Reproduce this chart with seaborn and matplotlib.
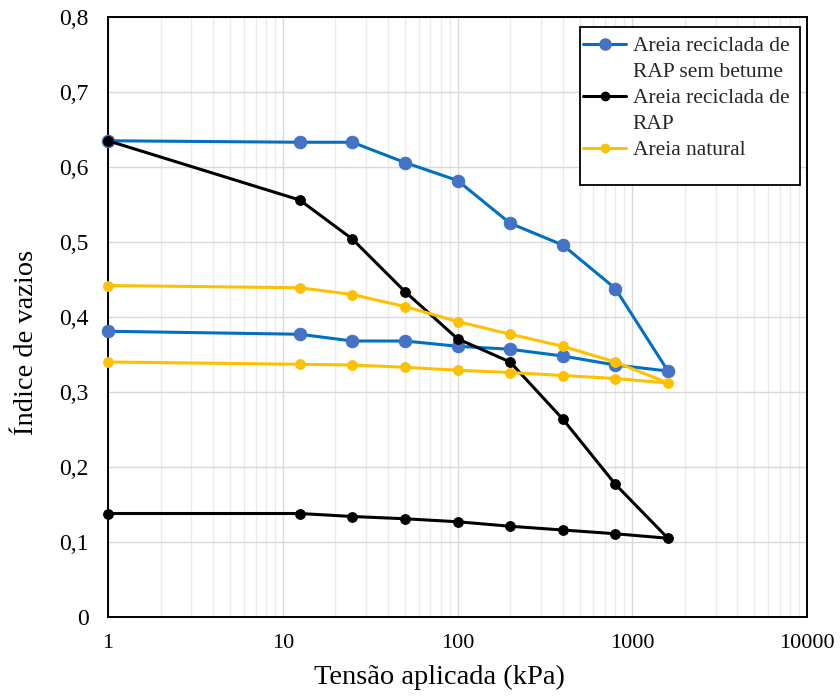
import matplotlib
matplotlib.use("Agg")
import matplotlib.pyplot as plt
from matplotlib.ticker import FixedLocator, FuncFormatter, LogLocator, NullFormatter
from matplotlib.lines import Line2D
from matplotlib.patches import Rectangle
import seaborn as sns
import pandas as pd

# Loading then unloading stresses (kPa)
stress_load = [1, 12.5, 25, 50, 100, 200, 400, 800, 1600]
stress_unload = [800, 400, 200, 100, 50, 25, 12.5, 1]

labels = ["Areia reciclada de RAP sem betume", "Areia reciclada de RAP", "Areia natural"]
legend_rows = [["Areia reciclada de", "RAP sem betume"], ["Areia reciclada de", "RAP"], ["Areia natural"]]

rap_sem_load = [0.635, 0.633, 0.633, 0.606, 0.582, 0.525, 0.496, 0.438, 0.328]
rap_sem_unload = [0.336, 0.348, 0.357, 0.361, 0.368, 0.368, 0.377, 0.381]

rap_load = [0.635, 0.556, 0.504, 0.434, 0.371, 0.340, 0.264, 0.177, 0.105]
rap_unload = [0.111, 0.116, 0.121, 0.127, 0.131, 0.134, 0.138, 0.138]

nat_load = [0.442, 0.439, 0.430, 0.414, 0.394, 0.377, 0.361, 0.340, 0.312]
nat_unload = [0.318, 0.322, 0.326, 0.329, 0.333, 0.336, 0.337, 0.340]

x_ticks = [1, 10, 100, 1000, 10000]
y_ticks = [0, 0.1, 0.2, 0.3, 0.4, 0.5, 0.6, 0.7, 0.8]

sns.set_theme(style="white")
plt.rcParams["font.family"] = ["Liberation Serif", "DejaVu Serif"]

fig = plt.figure(figsize=(8.4, 6.99), dpi=100)
ax = fig.add_axes([108/840, 1-617/699, (807-108)/840, 600/699])

series = [
    (labels[0], rap_sem_load + rap_sem_unload, "#0070C0", "#4472C4", 9),
    (labels[1], rap_load + rap_unload, "#000000", "#000000", 7),
    (labels[2], nat_load + nat_unload, "#FFC000", "#FFC000", 7),
]
xs = stress_load + stress_unload
handles, hlabels = [], []
for (lab, ys, lc, mc, ms), rows in zip(series, legend_rows):
    df = pd.DataFrame({"x": xs, "y": ys})
    sns.lineplot(data=df, x="x", y="y", sort=False, ax=ax, color=lc, lw=2.2,
                 marker="o", markersize=ms, markerfacecolor=mc, markeredgecolor=mc,
                 estimator=None, clip_on=False, zorder=3)
    handles.append(Line2D([], [], color=lc, lw=2.2, marker="o", markersize=ms - 1,
                          markerfacecolor=mc, markeredgecolor=mc))
    hlabels.append(rows[0])
    for extra in rows[1:]:
        handles.append(Line2D([], [], alpha=0))
        hlabels.append(extra)

ax.set_xscale("log")
ax.set_xlim(1, 10000)
ax.set_ylim(0, 0.8)
ax.xaxis.set_major_locator(FixedLocator(x_ticks))
ax.xaxis.set_major_formatter(FuncFormatter(lambda v, p: f"{int(round(v))}"))
ax.xaxis.set_minor_locator(LogLocator(base=10, subs=range(2, 10)))
ax.xaxis.set_minor_formatter(NullFormatter())
ax.yaxis.set_major_locator(FixedLocator(y_ticks))
ax.yaxis.set_major_formatter(FuncFormatter(lambda v, p: "0" if abs(v) < 1e-9 else f"{v:.1f}".replace(".", ",")))

ax.grid(which="major", color="#D9D9D9", lw=1)
ax.grid(which="minor", axis="x", color="#EBEBEB", lw=1)
ax.set_axisbelow(True)

for s in ["top", "right", "left", "bottom"]:
    ax.spines[s].set_color("black")
    ax.spines[s].set_linewidth(1.4)

ax.tick_params(axis="both", which="both", length=0, colors="black")
ax.tick_params(axis="x", labelsize=16, pad=12)
ax.tick_params(axis="y", labelsize=17, pad=14)

ax.set_xlabel("Tensão aplicada (kPa)", fontsize=20.5, color="black")
ax.set_ylabel("Índice de vazios", fontsize=20.5, color="black")
ax.xaxis.set_label_coords((439-108)/699, (617-665)/600)
ax.yaxis.set_label_coords((39-108)/699, (617-342)/600)

frame = Rectangle((580/840, 1-185/699), 220/840, 158/699,
                  transform=fig.transFigure, facecolor="white",
                  edgecolor="black", lw=1.3, zorder=4, clip_on=False)
ax.add_patch(frame)

leg = ax.legend(handles, hlabels, loc="upper left",
                bbox_to_anchor=((583-108)/699, (617-36)/600),
                fontsize=15.5, frameon=False,
                handlelength=2.0, handletextpad=0.3, labelspacing=0.28,
                borderpad=0.0, borderaxespad=0)
leg.set_zorder(5)

fig.savefig("out.png", dpi=100)
